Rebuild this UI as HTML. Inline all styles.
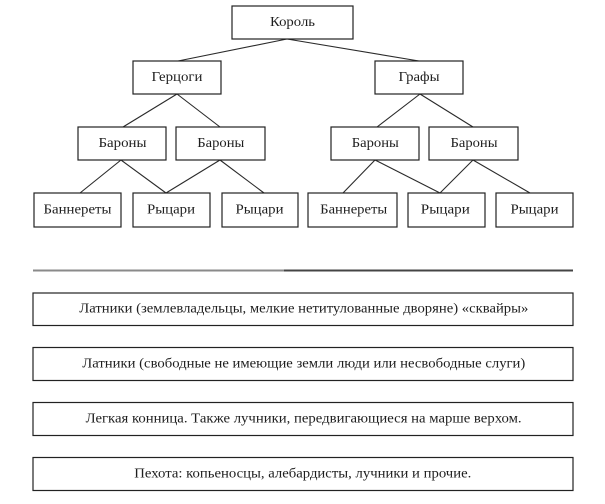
<!DOCTYPE html>
<html>
<head>
<meta charset="utf-8">
<style>
html,body{margin:0;padding:0;background:#fff;}
svg{display:block;}
svg text{font-family:"Liberation Serif","DejaVu Serif","Times New Roman",serif;font-size:14px;fill:#1e1e1e;}
</style>
</head>
<body>
<svg width="605" height="504" viewBox="0 0 605 504" xmlns="http://www.w3.org/2000/svg" font-family="Liberation Serif, DejaVu Serif, serif">
<g stroke="#2a2a2a" stroke-width="1.1" fill="none">
<line x1="287" y1="39" x2="178" y2="61"/>
<line x1="287" y1="39" x2="419" y2="61"/>
<line x1="177" y1="94" x2="123" y2="127"/>
<line x1="177" y1="94" x2="220" y2="127"/>
<line x1="121" y1="160" x2="80" y2="193"/>
<line x1="121" y1="160" x2="166" y2="193"/>
<line x1="220" y1="160" x2="166" y2="193"/>
<line x1="220" y1="160" x2="264" y2="193"/>
<line x1="420" y1="94" x2="377" y2="127"/>
<line x1="420" y1="94" x2="473" y2="127"/>
<line x1="375" y1="160" x2="343" y2="193"/>
<line x1="375" y1="160" x2="440" y2="193"/>
<line x1="473" y1="160" x2="440" y2="193"/>
<line x1="473" y1="160" x2="530" y2="193"/>
</g>
<g stroke="#222" stroke-width="1.2" fill="#fff">
<rect x="232" y="6" width="121" height="33"/>
<rect x="133" y="61" width="88" height="33"/>
<rect x="375" y="61" width="88" height="33"/>
<rect x="78" y="127" width="88" height="33"/>
<rect x="176" y="127" width="89" height="33"/>
<rect x="331" y="127" width="88" height="33"/>
<rect x="429" y="127" width="89" height="33"/>
<rect x="34" y="193" width="87" height="34"/>
<rect x="133" y="193" width="77" height="34"/>
<rect x="222" y="193" width="76" height="34"/>
<rect x="308" y="193" width="89" height="34"/>
<rect x="408" y="193" width="77" height="34"/>
<rect x="496" y="193" width="77" height="34"/>
<rect x="33" y="293" width="540" height="32.5"/>
<rect x="33" y="347.5" width="540" height="33"/>
<rect x="33" y="402.5" width="540" height="33"/>
<rect x="33" y="457.5" width="540" height="33"/>
</g>
<line x1="33" y1="270.5" x2="285" y2="270.5" stroke="#8a8a8a" stroke-width="2"/>
<line x1="284" y1="270.5" x2="573" y2="270.5" stroke="#444" stroke-width="2"/>

<g text-anchor="middle" font-family="Liberation Serif, DejaVu Serif, serif" font-size="14">
<text x="292.5" y="26" textLength="45" lengthAdjust="spacingAndGlyphs">Король</text>
<text x="177" y="81" textLength="51" lengthAdjust="spacingAndGlyphs">Герцоги</text>
<text x="419" y="81" textLength="41" lengthAdjust="spacingAndGlyphs">Графы</text>
<text x="122.5" y="147" textLength="48" lengthAdjust="spacingAndGlyphs">Бароны</text>
<text x="220.8" y="147" textLength="47" lengthAdjust="spacingAndGlyphs">Бароны</text>
<text x="375.3" y="147" textLength="47" lengthAdjust="spacingAndGlyphs">Бароны</text>
<text x="474" y="147" textLength="47" lengthAdjust="spacingAndGlyphs">Бароны</text>
<text x="77.5" y="213.5" textLength="68" lengthAdjust="spacingAndGlyphs">Баннереты</text>
<text x="171" y="213.5" textLength="48" lengthAdjust="spacingAndGlyphs">Рыцари</text>
<text x="259.5" y="213.5" textLength="48" lengthAdjust="spacingAndGlyphs">Рыцари</text>
<text x="353.7" y="213.5" textLength="67" lengthAdjust="spacingAndGlyphs">Баннереты</text>
<text x="445.3" y="213.5" textLength="49" lengthAdjust="spacingAndGlyphs">Рыцари</text>
<text x="534.5" y="213.5" textLength="48" lengthAdjust="spacingAndGlyphs">Рыцари</text>
<text x="303.8" y="312.5" textLength="449" lengthAdjust="spacingAndGlyphs">Латники (землевладельцы, мелкие нетитулованные дворяне) «сквайры»</text>
<text x="303.8" y="367.5" textLength="443" lengthAdjust="spacingAndGlyphs">Латники (свободные не имеющие земли люди или несвободные слуги)</text>
<text x="303.6" y="422.5" textLength="436" lengthAdjust="spacingAndGlyphs">Легкая конница. Также лучники, передвигающиеся на марше верхом.</text>
<text x="302.8" y="477.5" textLength="337" lengthAdjust="spacingAndGlyphs">Пехота: копьеносцы, алебардисты, лучники и прочие.</text>
</g>
</svg>
</body>
</html>
